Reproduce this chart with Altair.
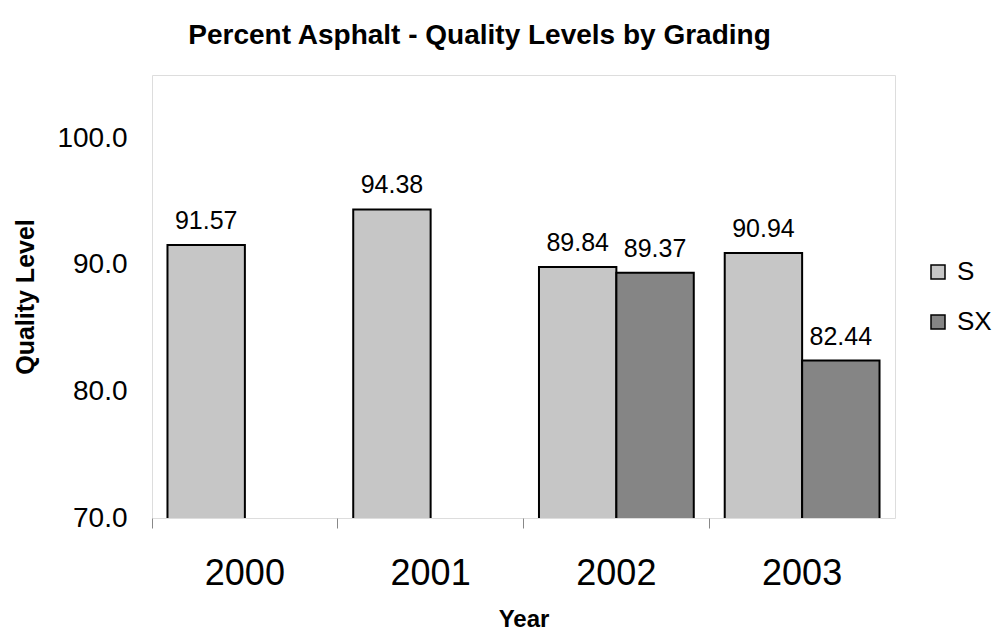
import altair as alt
import pandas as pd

years = ["2000", "2001", "2002", "2003"]
series = ["S", "SX"]
s_values = [91.57, 94.38, 89.84, 90.94]
sx_values = [None, None, 89.37, 82.44]
y_ticks = [70, 80, 90, 100]
colors = ["#c6c6c6", "#858585"]

rows = []
for i, yr in enumerate(years):
    for name, vals in (("S", s_values), ("SX", sx_values)):
        if vals[i] is not None:
            rows.append({"Year": yr, "Grading": name, "Value": vals[i]})
df = pd.DataFrame(rows)

FONT = "Liberation Sans"

x = alt.X(
    "Year:N",
    sort=years,
    title="Year",
    scale=alt.Scale(paddingInner=0, paddingOuter=0),
    axis=alt.Axis(
        labelAngle=0, labelFontSize=36, labelFont=FONT, labelColor="black",
        titleFontSize=24, titleFontWeight="bold", titleFont=FONT, titleColor="black",
        ticks=True, tickSize=10, tickColor="#888888", bandPosition=0,
        domain=False, labelPadding=28, titlePadding=16,
    ),
)
xo = alt.XOffset(
    "Grading:N", sort=series,
    scale=alt.Scale(domain=series, paddingOuter=0.2, paddingInner=0),
)
y = alt.Y(
    "Value:Q",
    title="Quality Level",
    scale=alt.Scale(domain=[70, 105], nice=False, zero=False),
    axis=alt.Axis(
        values=y_ticks, format=".1f", grid=False, ticks=False, domain=False,
        labelFontSize=28, labelFont=FONT, labelColor="black", labelPadding=25,
        titleFontSize=25, titleFontWeight="bold", titleFont=FONT, titleColor="black",
        titlePadding=18,
    ),
)

bars = alt.Chart(df).mark_bar(stroke="black", strokeWidth=2, clip=True).encode(
    x=x, xOffset=xo, y=y,
    color=alt.Color(
        "Grading:N",
        scale=alt.Scale(domain=series, range=colors),
        legend=alt.Legend(
            title=None, orient="none", legendX=773, legendY=184,
            symbolType="square", symbolSize=196, symbolStrokeColor="black",
            symbolStrokeWidth=1.5, labelFontSize=26, labelFont=FONT,
            labelColor="black", rowPadding=24, padding=0, labelOffset=6,
        ),
    ),
)

labels = alt.Chart(df).mark_text(
    dy=-16, baseline="alphabetic", fontSize=25, font=FONT, color="black"
).encode(
    x=x, xOffset=xo, y=y,
    text=alt.Text("Value:Q", format=".2f"),
)

chart = (
    alt.layer(bars, labels)
    .properties(
        width=743, height=443,
        title=alt.TitleParams(
            "Percent Asphalt - Quality Levels by Grading",
            fontSize=28, fontWeight="bold", font=FONT, color="black",
            anchor="middle", dx=-44, offset=25,
        ),
        autosize=alt.AutoSizeParams(type="none"),
        padding={"left": 144, "top": 67, "right": 100, "bottom": 120},
    )
    .configure_view(stroke="#a0a0a0", strokeWidth=1)
    .configure(background="white")
)

chart.save("out.html", embed_options={"renderer": "svg", "actions": False})
